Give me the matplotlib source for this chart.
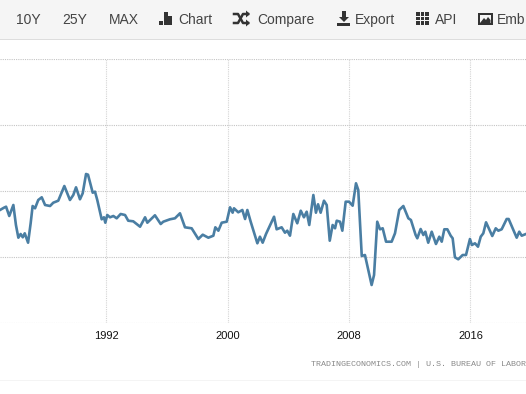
import matplotlib
matplotlib.use("Agg")
import matplotlib.pyplot as plt
from matplotlib.patches import Rectangle, Polygon

# values, the y axis has no visible labels so units are arbitrary
years = [
    1985.00, 1985.26, 1985.40, 1985.61, 1985.88, 1986.05, 1986.21, 1986.36, 1986.50, 1986.63,
    1986.85, 1987.02, 1987.15, 1987.31, 1987.52, 1987.75, 1987.97, 1988.30, 1988.51, 1988.84,
    1989.24, 1989.61, 1989.83, 1990.01, 1990.27, 1990.45, 1990.67, 1990.80, 1991.11, 1991.26,
    1991.41, 1991.70, 1991.85, 1991.94, 1992.07, 1992.25, 1992.47, 1992.69, 1992.95, 1993.24,
    1993.45, 1993.78, 1994.23, 1994.56, 1994.71, 1995.21, 1995.59, 1995.76, 1996.20, 1996.53,
    1996.86, 1997.19, 1997.63, 1998.07, 1998.36, 1998.73, 1999.06, 1999.19, 1999.39, 1999.61,
    1999.94, 2000.16, 2000.33, 2000.42, 2000.70, 2000.97, 2001.15, 2001.30, 2001.52, 2001.96,
    2002.13, 2002.31, 2002.53, 2003.06, 2003.23, 2003.56, 2003.78, 2003.93, 2004.11, 2004.33,
    2004.59, 2004.82, 2005.03, 2005.21, 2005.38, 2005.65, 2005.82, 2005.96, 2006.13, 2006.35,
    2006.53, 2006.73, 2006.92, 2007.08, 2007.19, 2007.41, 2007.56, 2007.78, 2008.00, 2008.24,
    2008.46, 2008.61, 2008.84, 2009.05, 2009.34, 2009.49, 2009.65, 2009.86, 2010.04, 2010.22,
    2010.44, 2010.81, 2011.03, 2011.31, 2011.58, 2011.91, 2012.08, 2012.39, 2012.50, 2012.72,
    2012.90, 2013.03, 2013.22, 2013.45, 2013.73, 2013.95, 2014.11, 2014.28, 2014.48, 2014.70,
    2014.83, 2014.98, 2015.20, 2015.49, 2015.71, 2015.97, 2016.10, 2016.30, 2016.50, 2016.68,
    2016.85, 2017.03, 2017.44, 2017.67, 2017.84, 2018.06, 2018.39, 2018.52, 2018.72, 2019.05,
    2019.22, 2019.38, 2019.66,
]
values = [
    113, 115.3, 116.3, 107, 118, 98, 85.3, 89, 85.7, 89.7,
    80.3, 99.7, 117, 114.7, 123, 125.7, 118, 117, 120.3, 122.3,
    137, 123, 128, 135.7, 123.7, 129.7, 149, 148.3, 130.3, 131.3,
    123, 103.7, 105.7, 100.3, 108, 105.7, 107, 104.7, 109, 108,
    102.3, 101.7, 96.3, 105.7, 100.3, 107.7, 99, 101.3, 103.7, 104.7,
    109.7, 95.7, 94.7, 84, 88.3, 85.3, 87.3, 95.7, 92.3, 100.3,
    101.3, 115.7, 110.3, 114.7, 110.7, 113, 104, 113, 101.3, 79.7,
    86.3, 80.3, 89, 106.3, 93.7, 95.7, 90.3, 92.3, 87.3, 109,
    99.7, 112.3, 105.7, 111.3, 98, 128, 110.3, 118.7, 110.3, 122.3,
    118, 82.3, 98, 94.7, 102.3, 101.3, 92.3, 121.3, 121.3, 117.3,
    139.7, 133, 67, 68, 48, 38, 48, 101.3, 93.7, 94.7,
    81.3, 81.3, 89.7, 113, 117, 104.7, 103, 88, 84.7, 94,
    88, 91.3, 80.3, 91.3, 79, 86.3, 81.3, 93.7, 93.7, 87.3,
    84.7, 65.7, 63.7, 68, 68, 84, 78, 79.7, 76.3, 86.3,
    89.7, 100.7, 87, 94.7, 92.3, 93.7, 104, 104, 97, 85.3,
    91.3, 87.3, 89,
]
x_ticks = [1992, 2000, 2008, 2016]
y_ticks = [0, 66, 132, 198, 264]
toolbar_labels = ["10Y", "25Y", "MAX", "Chart", "Compare", "Export", "API", "Emb"]
toolbar_x = [16, 62, 109, 178, 257, 355, 435, 497]
source_text = "TRADINGECONOMICS.COM | U.S. BUREAU OF LABOR"

W, H = 526, 394
plt.rcParams["font.family"] = ["Liberation Sans", "DejaVu Sans"]
fig = plt.figure(figsize=(W / 100, H / 100), dpi=100, facecolor="white")

# page overlay in pixel coords, for the toolbar and the footer
page = fig.add_axes([0, 0, 1, 1])
page.set_xlim(0, W)
page.set_ylim(H, 0)
page.axis("off")
page.add_patch(Rectangle((0, 0), W, 39, fc="#f5f5f5", ec="none"))
page.add_patch(Rectangle((0, 39), W, 1.3, fc="#dddddd", ec="none"))
page.add_patch(Rectangle((0, 380), W, 1, fc="#f4f4f4", ec="none"))

for lab, x in zip(toolbar_labels, toolbar_x):
    page.text(x, 19.5, lab, fontsize=10, color="#444444", ha="left", va="center")

icon = "#333333"
# chart icon
for x0, top in [(159, 21), (163.5, 12), (168, 16)]:
    page.add_patch(Rectangle((x0, top), 4, 25 - top, fc=icon, ec="none"))
# compare icon
page.plot([234, 238, 243, 248], [14, 14, 23, 23], color=icon, lw=1.8)
page.plot([234, 238, 243, 248], [23, 23, 14, 14], color=icon, lw=1.8)
page.add_patch(Polygon([(246, 10.5), (250, 14), (246, 17.5)], fc=icon, ec="none"))
page.add_patch(Polygon([(246, 19.5), (250, 23), (246, 26.5)], fc=icon, ec="none"))
# export icon
page.add_patch(Rectangle((342, 11), 3.6, 7, fc=icon, ec="none"))
page.add_patch(Polygon([(339, 17), (349, 17), (344, 22)], fc=icon, ec="none"))
page.add_patch(Rectangle((337, 22.5), 13, 3, fc=icon, ec="none"))
# api icon
for i in range(3):
    for j in range(3):
        page.add_patch(Rectangle((416 + i * 4.6, 12 + j * 4.6), 3.8, 3.8, fc=icon, ec="none"))
# embed icon
page.add_patch(Rectangle((478, 12.5), 14.5, 12.5, fc=icon, ec="none"))
page.add_patch(Rectangle((480, 14.5), 10.5, 8.5, fc="#f5f5f5", ec="none"))
page.add_patch(Polygon([(480, 23), (484, 18), (486, 20), (488, 17), (490.5, 20), (490.5, 23)], fc=icon, ec="none"))

page.text(311, 365, source_text, fontsize=6, color="#8a8a8a", family="Liberation Mono", ha="left", va="center")

# chart area
ax = fig.add_axes([0, (H - 323) / H, 1, 264 / H])
ax.patch.set_alpha(0)
ax.set_xlim(1985, 1985 + W * 0.0659)
ax.set_ylim(0, 264)
ax.set_xticks(x_ticks)
ax.set_yticks(y_ticks)
ax.set_yticklabels([])
ax.tick_params(axis="both", length=0)
ax.tick_params(axis="x", labelsize=8, labelcolor="#111111", pad=6)
ax.grid(axis="y", color="#c4c4c4", linestyle=(0, (1, 1)), linewidth=0.8)
ax.grid(axis="x", color="#d4d4d4", linestyle=(0, (1, 1)), linewidth=0.8)
ax.set_axisbelow(True)
for s in ax.spines.values():
    s.set_visible(False)

ax.plot(years, values, color="#4a7ea3", linewidth=1.9, solid_joinstyle="round")

fig.savefig("out.png", dpi=100)
